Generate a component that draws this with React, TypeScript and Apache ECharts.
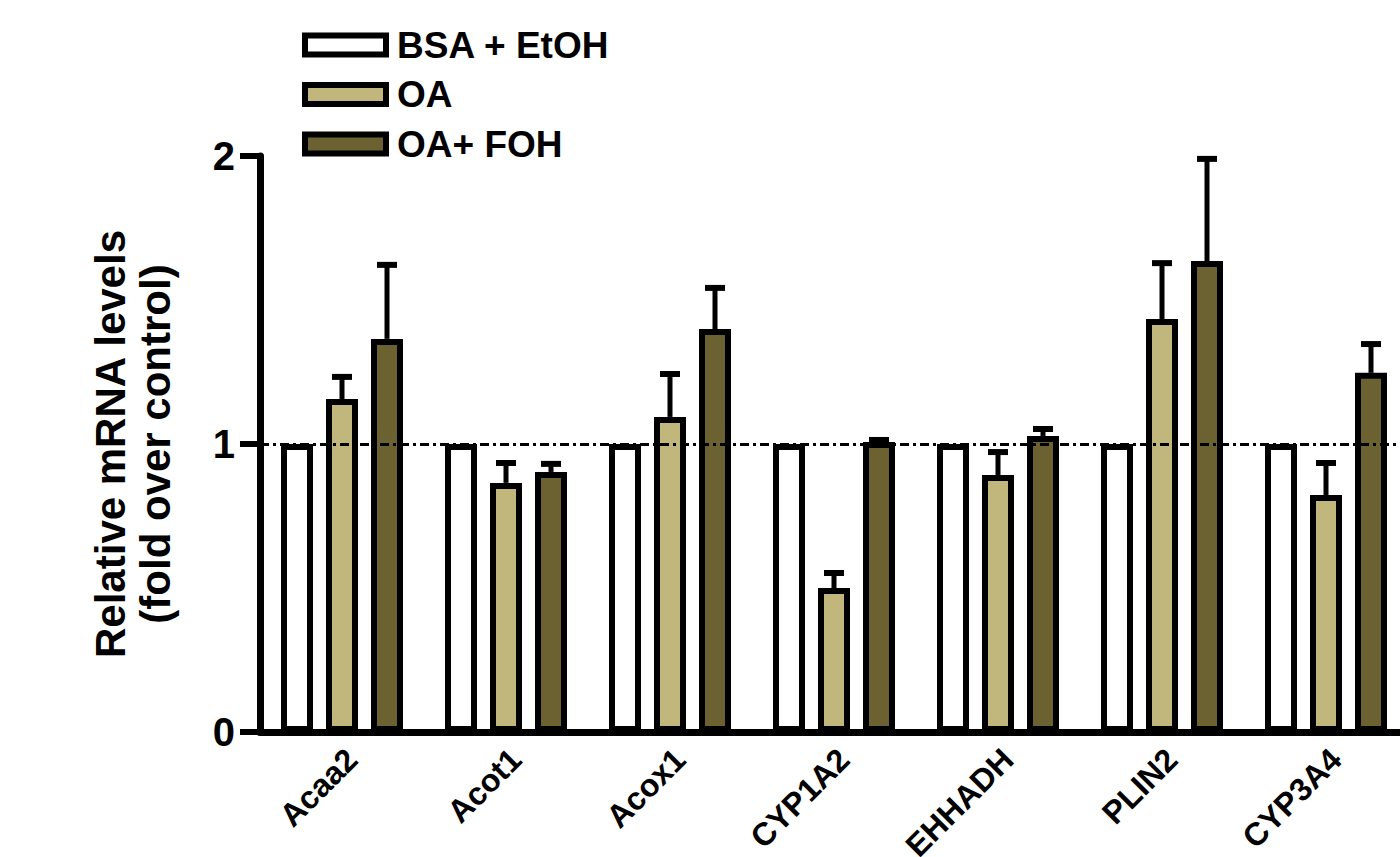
import React, { useEffect, useRef } from "react";
import * as echarts from "echarts";

const categories = ["Acaa2", "Acot1", "Acox1", "CYP1A2", "EHHADH", "PLIN2", "CYP3A4"];
const seriesNames = ["BSA + EtOH", "OA", "OA+ FOH"];
const controlValues = [1, 1, 1, 1, 1, 1, 1];
const oaValues = [1.156, 0.865, 1.094, 0.5, 0.892, 1.434, 0.823];
const oaSem = [0.077, 0.069, 0.149, 0.052, 0.08, 0.194, 0.111];
const fohValues = [1.365, 0.903, 1.399, 1.007, 1.028, 1.635, 1.247];
const fohSem = [0.257, 0.028, 0.143, 0.007, 0.024, 0.355, 0.1];
const yTicks = [0, 1, 2];

const FONT = "'Liberation Sans', Arial, sans-serif";
const BAR_W = 32;
const BAR_GAP_PX = 13;
const BORDER = 6;
const colors = ["#ffffff", "#c1b77d", "#6c6130"];

export default function App() {
  const ref = useRef<HTMLDivElement>(null);
  useEffect(() => {
    if (!ref.current) return;
    const chart = echarts.init(ref.current, null, { renderer: "svg" });
    const step = BAR_W + BAR_GAP_PX;

    const errSeries = (name: string, means: number[], sems: number[], k: number) => ({
      type: "custom",
      name: name + " err",
      z: 10,
      silent: true,
      data: means.map((m, i) => [i, m, m + sems[i]]),
      renderItem: (params: any, api: any) => {
        const i = api.value(0);
        const p0 = api.coord([i, api.value(1)]);
        const p1 = api.coord([i, api.value(2)]);
        const x = p0[0] + k * step;
        return {
          type: "group",
          children: [
            {
              type: "line",
              shape: { x1: x, y1: p0[1], x2: x, y2: p1[1] },
              style: { stroke: "#000", lineWidth: 5 },
            },
            {
              type: "line",
              shape: { x1: x - 10, y1: p1[1], x2: x + 10, y2: p1[1] },
              style: { stroke: "#000", lineWidth: 6 },
            },
          ],
        };
      },
    });

    const barSeries = (name: string, data: number[], color: string, extra: any = {}) => ({
      type: "bar",
      name,
      data,
      barWidth: BAR_W,
      barGap: (BAR_GAP_PX / BAR_W) * 100 + "%",
      itemStyle: { color, borderColor: "#000", borderWidth: BORDER },
      ...extra,
    });

    chart.setOption({
      animation: false,
      backgroundColor: "#ffffff",
      textStyle: { fontFamily: FONT },
      legend: {
        data: seriesNames,
        orient: "vertical",
        left: 302,
        top: 25,
        padding: 0,
        itemWidth: 81,
        itemHeight: 19,
        itemGap: 9.5,
        icon: "rect",
        selectedMode: false,
        itemStyle: { borderColor: "#000", borderWidth: BORDER },
        textStyle: {
          fontFamily: FONT,
          fontWeight: "bold",
          fontSize: 37,
          lineHeight: 40,
          color: "#000",
          padding: [0, 0, 0, 6],
        },
      },
      grid: {
        left: 260,
        right: -8,
        top: 156,
        bottom: 125,
        containLabel: false,
        outerBoundsMode: "none",
      },
      xAxis: {
        type: "category",
        data: categories,
        axisLine: { show: true, lineStyle: { color: "#000", width: 7 } },
        axisTick: { show: false },
        axisLabel: {
          interval: 0,
          rotate: 45,
          margin: 32,
          padding: [0, -14, 0, 0],
          fontFamily: FONT,
          fontWeight: "bold",
          fontSize: 32,
          color: "#000",
        },
        splitLine: { show: false },
      },
      yAxis: {
        type: "value",
        min: yTicks[0],
        max: yTicks[yTicks.length - 1],
        interval: 1,
        name: "Relative mRNA levels\n(fold over control)",
        nameLocation: "middle",
        nameGap: 82,
        nameMoveOverlap: false,
        nameTextStyle: {
          fontFamily: FONT,
          fontWeight: "bold",
          fontSize: 42,
          lineHeight: 45,
          color: "#000",
        },
        axisLine: { show: true, lineStyle: { color: "#000", width: 7 } },
        axisTick: { show: true, length: 20, lineStyle: { color: "#000", width: 6 } },
        axisLabel: {
          margin: 25,
          fontFamily: FONT,
          fontWeight: "bold",
          fontSize: 40,
          color: "#000",
        },
        splitLine: { show: false },
      },
      series: [
        barSeries(seriesNames[0], controlValues, colors[0], {
          markLine: {
            silent: true,
            symbol: ["none", "none"],
            label: { show: false },
            z: 6,
            lineStyle: { color: "#000", width: 3, type: [9, 4, 3, 4] },
            data: [{ yAxis: 1 }],
          },
        }),
        barSeries(seriesNames[1], oaValues, colors[1]),
        barSeries(seriesNames[2], fohValues, colors[2]),
        errSeries(seriesNames[1], oaValues, oaSem, 0),
        errSeries(seriesNames[2], fohValues, fohSem, 1),
      ],
    });
    return () => chart.dispose();
  }, []);
  return (
    <div
      ref={ref}
      style={{ position: "fixed", left: 0, top: 0, width: 1400, height: 857, background: "#fff" }}
    />
  );
}
